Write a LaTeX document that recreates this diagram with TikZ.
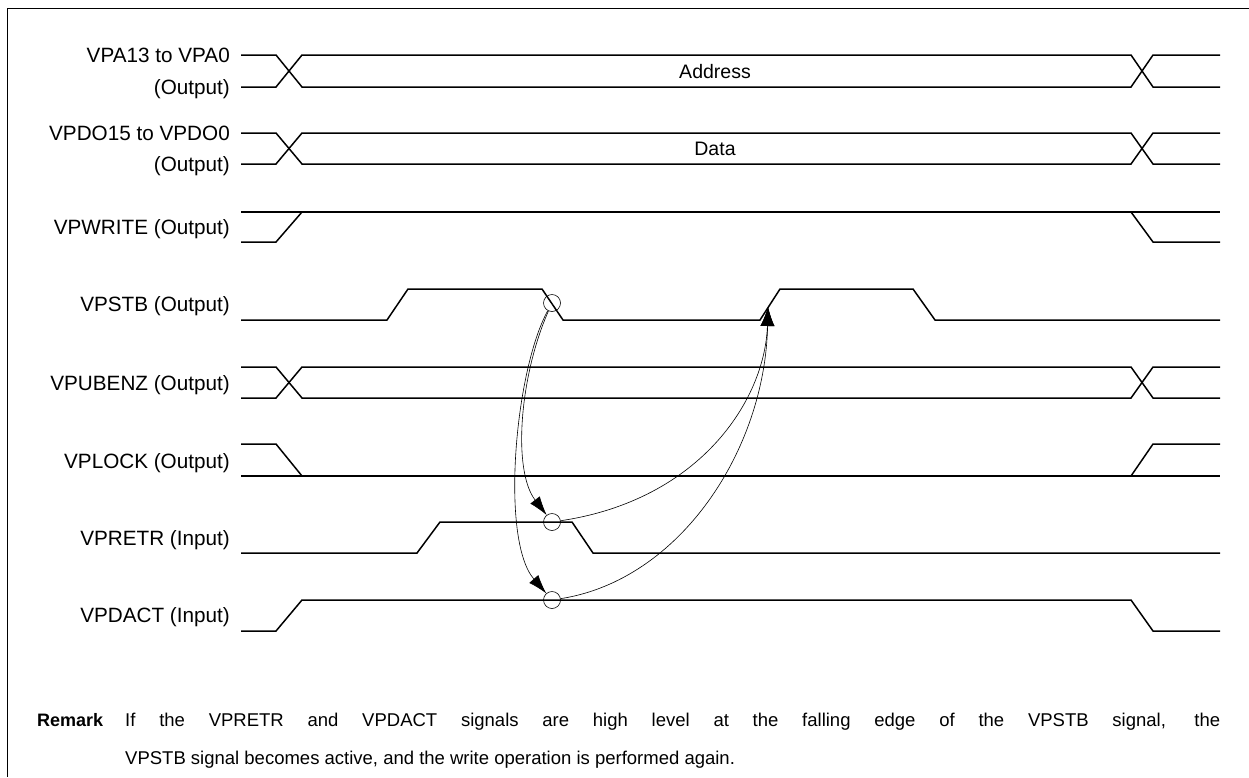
\documentclass[tikz,border=0pt]{standalone}
\usepackage{fontspec}
\setmainfont{Liberation Sans}
\usetikzlibrary{arrows.meta}
\begin{document}
\begin{tikzpicture}[x=1pt,y=-1pt,
  sig/.style={line width=1.5pt,line join=miter},
  lbl/.style={anchor=base east,inner sep=0pt,font=\fontsize{20.7}{24}\selectfont},
  ring/.style={circle,draw,line width=0.6pt,minimum size=17pt,inner sep=0pt},
  conn/.style={line width=0.6pt},
  tipa/.style={-{Latex[length=19pt,width=12pt]}},
  tipb/.style={-{Latex[length=19pt,width=14pt]}},
  remtext/.style={anchor=base west,inner sep=0pt,font=\fontsize{18.5}{22}\selectfont}]
\useasboundingbox (0,0) rectangle (1249,777);
% frame
\draw[line width=1pt] (1249,8) -- (7,8) -- (7,777);
% labels
\node[lbl] (l1) at (230,62) {VPA13 to VPA0};
\node[lbl] (l1b) at (230,94) {(Output)};
\node[lbl] (l2) at (230,140) {VPDO15 to VPDO0};
\node[lbl] (l2b) at (230,171) {(Output)};
\node[lbl] (l3) at (230,234) {VPWRITE (Output)};
\node[lbl] (l4) at (230,311) {VPSTB (Output)};
\node[lbl] (l5) at (230,390) {VPUBENZ (Output)};
\node[lbl] (l6) at (230,468) {VPLOCK (Output)};
\node[lbl] (l7) at (230,545) {VPRETR (Input)};
\node[lbl] (l8) at (230,622) {VPDACT (Input)};
% bus signals
\foreach \t/\b in {55/87,133/164,367/398}{
  \draw[sig] (241,\t) -- (276,\t) -- (302,\b) -- (1131,\b) -- (1153,\t) -- (1220,\t);
  \draw[sig] (241,\b) -- (276,\b) -- (302,\t) -- (1131,\t) -- (1153,\b) -- (1220,\b);
}
\node[font=\fontsize{19.5}{23}\selectfont] (addr) at (715,72) {Address};
\node[font=\fontsize{19.5}{23}\selectfont] (data) at (715,149) {Data};
% VPWRITE
\draw[sig] (241,212) -- (1220,212);
\draw[sig] (241,242) -- (276,242) -- (302,212);
\draw[sig] (1131,212) -- (1153,242) -- (1220,242);
% VPSTB
\draw[sig] (241,320) -- (387,320) -- (408,289) -- (542,289) -- (563,320) -- (760,320) -- (780,289) -- (913,289) -- (935,320) -- (1220,320);
% VPLOCK
\draw[sig] (241,444) -- (276,444) -- (302,476);
\draw[sig] (241,476) -- (1220,476);
\draw[sig] (1131,476) -- (1153,444) -- (1220,444);
% VPRETR
\draw[sig] (241,553) -- (417,553) -- (440,522) -- (572,522) -- (593,553) -- (1220,553);
% VPDACT
\draw[sig] (241,631) -- (276,631) -- (302,600) -- (1131,600) -- (1153,631) -- (1220,631);
% rings
\node[ring] (c1) at (552,303) {};
\node[ring] (c2) at (552,522) {};
\node[ring] (c3) at (552,600) {};
\coordinate (t) at (768,307);
% connectors
\draw[conn,tipa] (c1) .. controls (520,375) and (512,470) .. (c2);
\draw[conn,tipa] (c1) .. controls (515,370) and (500,540) .. (c3);
\draw[conn,tipb] (c2) .. controls (700,500) and (765,400) .. (t);
\draw[conn,tipb] (c3) .. controls (680,580) and (765,450) .. (t);
% remark
\node[anchor=base west,inner sep=0pt,font=\bfseries\fontsize{18}{22}\selectfont] (rem) at (37,726) {Remark};
\node[remtext] (r1) at (125,726) {\makebox[1095pt][s]{If the VPRETR and VPDACT signals are high level at the falling edge of the VPSTB signal, the}};
\node[remtext] (r2) at (125,764) {VPSTB signal becomes active, and the write operation is performed again.};
\end{tikzpicture}
\end{document}
